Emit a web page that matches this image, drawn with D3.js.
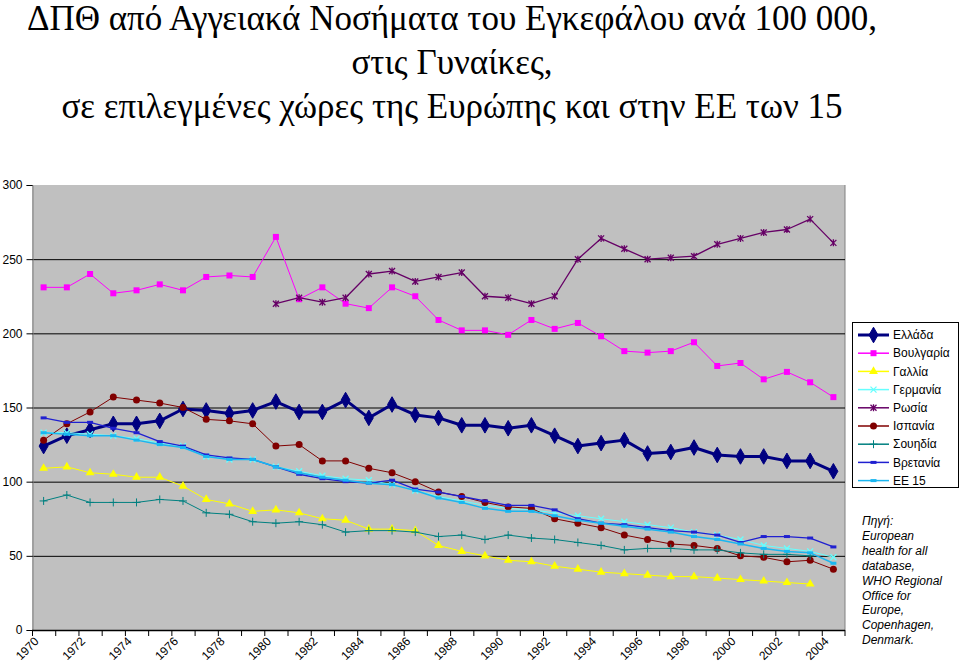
<!DOCTYPE html>
<html><head><meta charset="utf-8">
<script src="https://cdn.jsdelivr.net/npm/d3@7/dist/d3.min.js"></script>
<style>
body{margin:0;background:#fff;}
svg{display:block;}
</style></head>
<body>
<script>
const years = d3.range(1970, 2005);
const yTicks = [0, 50, 100, 150, 200, 250, 300];
const titleLines = ["ΔΠΘ από Αγγειακά Νοσήματα του Εγκεφάλου ανά 100 000,", "στις Γυναίκες,", "σε επιλεγμένες χώρες της Ευρώπης και στην ΕΕ των 15"];
const sourceLines = ["Πηγή:", "European", "health for all", "database,", "WHO Regional", "Office for", "Europe,", "Copenhagen,", "Denmark."];

const greece = [124,131,135,139,139,141,149,148,146,148,154,147,147,155,143,152,145,143,138,138,136,138,131,124,126,128,119,120,123,118,117,117,114,114,107];
const bulgaria = [231,231,240,227,229,233,229,238,239,238,265,223,231,220,217,231,225,209,202,202,199,209,203,207,198,188,187,188,194,178,180,169,174,167,157];
const france = [109,110,106,105,103,103,97,88,85,80,81,79,75,74,68,68,67,57,53,50,47,46,43,41,39,38,37,36,36,35,34,33,32,31,null];
const germany = [133,133,132,131,129,126,124,117,115,115,110,107,104,102,101,98,94,90,87,84,82,81,79,77,75,73,71,69,66,64,61,57,55,53,49];
const russia = [null,null,null,null,null,null,null,null,null,null,220,224,221,224,240,242,235,238,241,225,224,220,225,250,264,257,250,251,252,260,264,268,270,277,261];
const spain = [128,139,147,157,155,153,150,142,141,139,124,125,114,114,109,106,100,93,90,86,83,82,75,72,69,64,61,58,57,55,50,49,46,47,41];
const sweden = [87,91,86,86,86,88,87,79,78,73,72,73,71,66,67,67,66,63,64,61,64,62,61,59,57,54,55,55,54,54,52,51,51,50,null];
const britain = [143,140,140,136,133,127,124,118,116,115,110,105,102,100,99,101,95,93,90,87,84,84,81,75,72,71,69,67,66,64,59,63,63,62,56];
const eu15 = [133,132,131,131,128,125,123,117,115,115,110,106,103,101,99,98,94,89,86,82,80,80,77,74,72,70,68,66,63,61,58,55,53,52,45];

const seriesNames = ["Ελλάδα","Βουλγαρία","Γαλλία","Γερμανία","Ρωσία","Ισπανία","Σουηδία","Βρετανία","ΕΕ 15"];
const seriesValues = [greece, bulgaria, france, germany, russia, spain, sweden, britain, eu15];
const seriesColors = ["#000080","#FF00FF","#FFFF00","#66FFFF","#660066","#800000","#008080","#2020D0","#1AB6F0"];
const seriesWidths = [3,1,1,1,1.3,1,1,1.3,1.5];
const seriesMarkers = ["diamond","square","triangle","x","star","circle","plus","dash","dash"];

const SANS = "Liberation Sans, Arial, sans-serif";
const SERIF = "Liberation Serif, Times New Roman, serif";

const W = 960, H = 666;
const svg = d3.select("body").append("svg").attr("width", W).attr("height", H);

// Title
svg.append("g").selectAll("text").data(titleLines).join("text")
  .attr("x", 452).attr("y", (d,i) => 30 + i*44)
  .attr("text-anchor", "middle")
  .attr("font-family", SERIF)
  .attr("font-size", 35).attr("fill", "#000").text(d => d);

const L = 32, R = 845, T = 185, B = 630;
const x = d3.scaleBand().domain(years).range([L, R]).paddingInner(0).paddingOuter(0);
const y = d3.scaleLinear().domain([0, 300]).range([B, T]);
const cx = yr => x(yr) + x.bandwidth()/2;

// plot background
svg.append("rect").attr("x", L).attr("y", T).attr("width", R-L).attr("height", B-T).attr("fill", "#C0C0C0");
svg.append("line").attr("x1", R).attr("x2", R).attr("y1", T).attr("y2", B).attr("stroke", "#808080").attr("stroke-width", 1);

// gridlines
svg.append("g").selectAll("line").data(yTicks.filter(v => v > 0 && v < 300)).join("line")
  .attr("x1", L).attr("x2", R).attr("y1", d => y(d)+0.5).attr("y2", d => y(d)+0.5)
  .attr("stroke", "#000").attr("stroke-width", 1);

// y axis
const yAxis = d3.axisLeft(y).tickValues(yTicks).tickSize(6).tickPadding(4);
const gy = svg.append("g").attr("transform", `translate(${L+0.5},0)`).call(yAxis);
gy.attr("font-family", SANS).attr("font-size", 12);
gy.selectAll("text").attr("fill", "#000");
gy.select(".domain").attr("stroke", "#808080");
gy.selectAll(".tick line").attr("stroke", "#000");

// x axis
const gx = svg.append("g");
gx.append("line").attr("x1", L).attr("x2", R).attr("y1", B+0.5).attr("y2", B+0.5).attr("stroke", "#000").attr("stroke-width", 1.5);
gx.selectAll("line.tk").data(years.concat([null])).join("line").attr("class","tk")
  .attr("x1", d => d === null ? R : x(d)+0.5).attr("x2", d => d === null ? R : x(d)+0.5)
  .attr("y1", B).attr("y2", B+6).attr("stroke", "#000");
gx.selectAll("text.xl").data(years.filter(v => (v - 1970) % 2 === 0)).join("text")
  .attr("class", "xl")
  .attr("transform", d => `translate(${cx(d)-7},${B+9}) rotate(-45)`)
  .attr("text-anchor", "end").attr("dy", "0.35em")
  .attr("font-family", SANS).attr("font-size", 12).attr("fill", "#000")
  .text(d => d);

function drawMarker(g, type, px, py, color) {
  switch (type) {
    case "diamond":
      g.append("path").attr("d", d3.symbol(d3.symbolDiamond, 70)()).attr("transform", `translate(${px},${py})`).attr("fill", color).attr("stroke", color);
      break;
    case "square":
      g.append("rect").attr("x", px-3).attr("y", py-3).attr("width", 6).attr("height", 6).attr("fill", color);
      break;
    case "triangle":
      g.append("path").attr("d", d3.symbol(d3.symbolTriangle, 34)()).attr("transform", `translate(${px},${py})`).attr("fill", color);
      break;
    case "x":
      g.append("path").attr("d", `M${px-3},${py-3}L${px+3},${py+3}M${px-3},${py+3}L${px+3},${py-3}`).attr("stroke", color).attr("stroke-width", 1.3);
      break;
    case "star":
      g.append("path").attr("d", `M${px-3},${py-3}L${px+3},${py+3}M${px-3},${py+3}L${px+3},${py-3}M${px},${py-3.5}L${px},${py+3.5}`).attr("stroke", color).attr("stroke-width", 1.3);
      break;
    case "circle":
      g.append("circle").attr("cx", px).attr("cy", py).attr("r", 3.5).attr("fill", color);
      break;
    case "plus":
      g.append("path").attr("d", `M${px-4},${py}L${px+4},${py}M${px},${py-4}L${px},${py+4}`).attr("stroke", color).attr("stroke-width", 1);
      break;
    case "dash":
      g.append("path").attr("d", `M${px-3},${py}L${px+3},${py}`).attr("stroke", color).attr("stroke-width", 3);
      break;
  }
}

// series
const plot = svg.append("g");
seriesValues.forEach((vals, si) => {
  const data = years.map((yr, i) => ({yr, v: vals[i]}));
  const line = d3.line().defined(d => d.v !== null).x(d => cx(d.yr)).y(d => y(d.v));
  const g = plot.append("g");
  g.append("path").datum(data).attr("d", line).attr("fill", "none")
    .attr("stroke", seriesColors[si]).attr("stroke-width", seriesWidths[si]).attr("stroke-linejoin", "round");
  data.filter(d => d.v !== null).forEach(d => drawMarker(g, seriesMarkers[si], cx(d.yr), y(d.v), seriesColors[si]));
});

// legend
const lg = svg.append("g");
lg.append("rect").attr("x", 852.5).attr("y", 322.5).attr("width", 106).attr("height", 165).attr("fill", "#fff").attr("stroke", "#000");
seriesNames.forEach((n, i) => {
  const ly = 335 + i*18.2;
  lg.append("line").attr("x1", 858).attr("x2", 889).attr("y1", ly).attr("y2", ly).attr("stroke", seriesColors[i]).attr("stroke-width", Math.max(1.5, seriesWidths[i]));
  drawMarker(lg, seriesMarkers[i], 873.5, ly, seriesColors[i]);
  lg.append("text").attr("x", 893).attr("y", ly).attr("dy", "0.35em")
    .attr("font-family", SANS).attr("font-size", 12).attr("fill", "#000").text(n);
});

// source
svg.append("g").selectAll("text").data(sourceLines).join("text")
  .attr("x", 862).attr("y", (d,i) => 525 + i*14.9)
  .attr("font-family", SANS).attr("font-style", "italic")
  .attr("font-size", 12).attr("fill", "#000").text(d => d);
</script>
</body></html>
